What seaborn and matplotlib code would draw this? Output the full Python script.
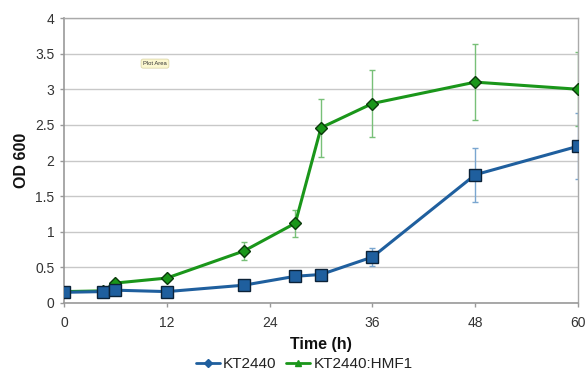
import numpy as np
import pandas as pd
import matplotlib
matplotlib.use("Agg")
import matplotlib.pyplot as plt
import seaborn as sns
from matplotlib.lines import Line2D

# ---- data ----
time_blue = [0, 4.5, 6, 12, 21, 27, 30, 36, 48, 60]
od_blue = [0.15, 0.16, 0.18, 0.16, 0.25, 0.375, 0.40, 0.645, 1.80, 2.20]
err_blue = [0.02, 0.02, 0.02, 0.02, 0.03, 0.04, 0.04, 0.13, 0.38, 0.46]

time_green = [0, 4.5, 6, 12, 21, 27, 30, 36, 48, 60]
od_green = [0.16, 0.17, 0.28, 0.35, 0.73, 1.12, 2.46, 2.80, 3.10, 3.00]
err_green = [0.02, 0.02, 0.03, 0.03, 0.13, 0.19, 0.41, 0.47, 0.53, 0.52]

series_names = ["KT2440", "KT2440:HMF1"]
x_ticks = [0, 12, 24, 36, 48, 60]
y_ticks = [0, 0.5, 1, 1.5, 2, 2.5, 3, 3.5, 4]
y_tick_labels = ["0", "0.5", "1", "1.5", "2", "2.5", "3", "3.5", "4"]

blue = "#1f5f9e"
green = "#1a961a"
blue_err = "#7aa6d0"
green_err = "#78c078"

sns.set_theme(style="white")
plt.rcParams['font.family'] = ['Liberation Sans', 'DejaVu Sans']

df = pd.concat([
    pd.DataFrame({"Time": time_blue, "OD": od_blue, "strain": series_names[0]}),
    pd.DataFrame({"Time": time_green, "OD": od_green, "strain": series_names[1]}),
])

fig = plt.figure(figsize=(5.87, 3.71), dpi=100)
ax = fig.add_axes([64/587, 68/371, 514/587, 285/371])

ax.set_axisbelow(True)
ax.yaxis.grid(True, color="#c8c8c8", linewidth=1.0)

# error bars
ax.errorbar(time_green, od_green, yerr=err_green, fmt="none", ecolor=green_err,
            elinewidth=1.0, capsize=2.5, capthick=1.0, zorder=2)
ax.errorbar(time_blue, od_blue, yerr=err_blue, fmt="none", ecolor=blue_err,
            elinewidth=1.0, capsize=2.5, capthick=1.0, zorder=2)

# green line (drawn first so blue sits on top at low values)
sns.lineplot(data=df[df.strain == series_names[1]], x="Time", y="OD", ax=ax,
             color=green, linewidth=2.2, marker="D", markersize=6.5,
             markerfacecolor=green, markeredgecolor="#0b3a0b", markeredgewidth=1.0,
             zorder=3, legend=False)
sns.lineplot(data=df[df.strain == series_names[0]], x="Time", y="OD", ax=ax,
             color=blue, linewidth=2.2, marker="s", markersize=8.5,
             markerfacecolor=blue, markeredgecolor="#0b2238", markeredgewidth=1.0,
             zorder=4, legend=False)

ax.set_xlim(0, 60)
ax.set_ylim(0, 4)
ax.set_xticks(x_ticks)
ax.set_xticklabels([str(t) for t in x_ticks], fontsize=10, color="#333333")
ax.set_yticks(y_ticks)
ax.set_yticklabels(y_tick_labels, fontsize=10, color="#333333")
ax.tick_params(axis="both", which="both", length=3, width=1, color="#999999",
               direction="out", bottom=True, left=True, pad=4)
ax.tick_params(axis="x", pad=6.5)

for side in ["left", "bottom"]:
    ax.spines[side].set_color("#999999")
    ax.spines[side].set_linewidth(1.2)
for side in ["top", "right"]:
    ax.spines[side].set_color("#aaaaaa")
    ax.spines[side].set_linewidth(1.0)

ax.set_xlabel("Time (h)", fontsize=11.5, fontweight="bold", color="#111111", labelpad=5)
ax.set_ylabel("OD 600", fontsize=11.5, fontweight="bold", color="#111111", labelpad=4)

# "Plot Area" tooltip
ax.text(0.177, 0.84, "Plot Area", transform=ax.transAxes, fontsize=4.2,
        color="#333333", ha="center", va="center",
        bbox=dict(boxstyle="round,pad=0.35", facecolor="#fbf7d0", edgecolor="#d8d2a0", linewidth=0.5))

handles = [
    Line2D([0], [0], color=blue, linewidth=2, marker="D", markersize=4,
           markerfacecolor=blue, markeredgecolor=blue),
    Line2D([0], [0], color=green, linewidth=2, marker="^", markersize=5,
           markerfacecolor=green, markeredgecolor=green),
]
fig.legend(handles, series_names, loc="center", bbox_to_anchor=(0.518, 0.018),
           ncol=2, frameon=False, fontsize=11, handlelength=1.6, handletextpad=0.2,
           columnspacing=0.6, labelcolor="#222222", borderpad=0)

fig.savefig("out.png", dpi=100, facecolor="white")
